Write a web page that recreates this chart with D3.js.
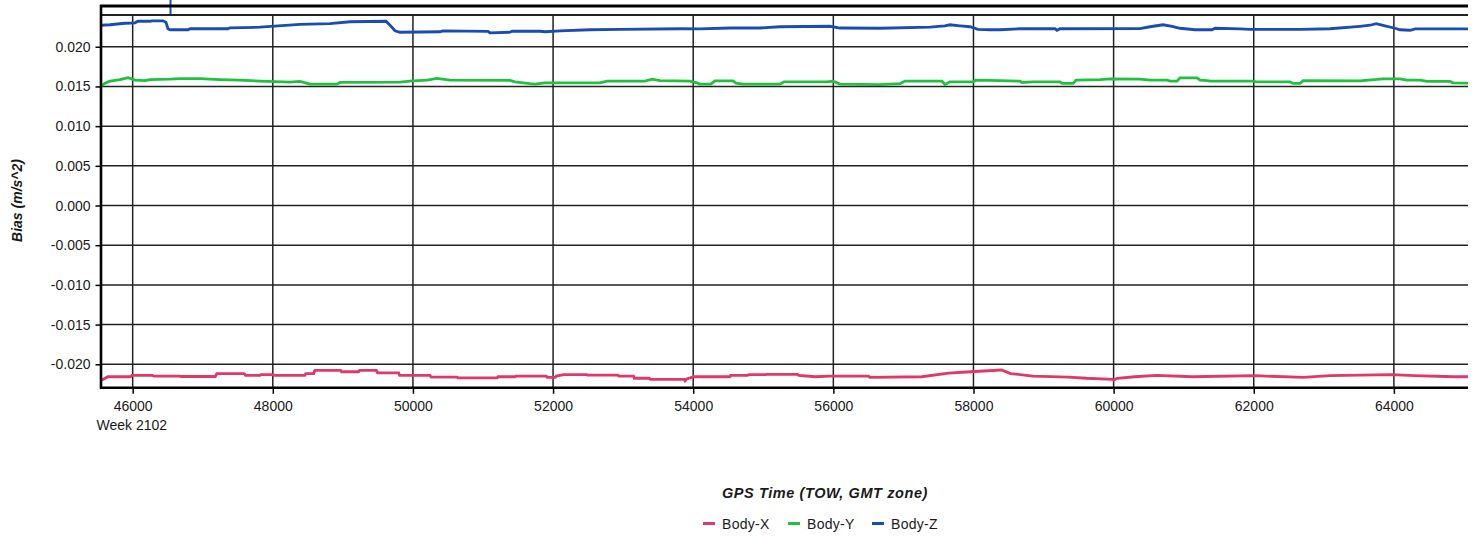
<!DOCTYPE html>
<html><head><meta charset="utf-8">
<script src="https://cdn.jsdelivr.net/npm/d3@7"></script>
<style>
html,body{margin:0;padding:0;background:#fff;}
svg{display:block;font-family:"Liberation Sans",Arial,sans-serif;}
</style></head>
<body>
<svg id="chart" width="1476" height="538"></svg>
<script>
// ---- data (TOW seconds, bias m/s^2) ----
const seriesNames = ["Body-X", "Body-Y", "Body-Z"];
const seriesColors = ["#e0386b", "#1fc23d", "#1a4db3"];
const xTicks = [46000, 48000, 50000, 52000, 54000, 56000, 58000, 60000, 62000, 64000];
const yTicks = [0.020, 0.015, 0.010, 0.005, 0.000, -0.005, -0.010, -0.015, -0.020];
const weekLabel = "Week 2102";
const xTitle = "GPS Time (TOW, GMT zone)";
const yTitle = "Bias (m/s^2)";
const xDomain = [45548, 65058];
const yDomain = [-0.0229, 0.024];
const eventTimes = [46540];

const bodyX = [[45548,-0.02200],[45582,-0.02189],[45646,-0.02157],[45966,-0.02157],[45990,-0.02140],[46284,-0.02140],[46300,-0.02149],[46668,-0.02149],[46690,-0.02154],[47179,-0.02154],[47200,-0.02117],[47594,-0.02117],[47610,-0.02140],[47817,-0.02140],[47830,-0.02131],[48008,-0.02131],[48020,-0.02140],[48456,-0.02140],[48470,-0.02117],[48583,-0.02117],[48600,-0.02076],[48967,-0.02076],[48980,-0.02094],[49222,-0.02094],[49240,-0.02076],[49478,-0.02076],[49495,-0.02108],[49796,-0.02108],[49810,-0.02140],[50243,-0.02140],[50260,-0.02161],[50627,-0.02161],[50640,-0.02171],[51202,-0.02171],[51215,-0.02157],[51456,-0.02157],[51470,-0.02149],[51904,-0.02149],[51915,-0.02166],[52031,-0.02166],[52045,-0.02149],[52155,-0.02131],[52478,-0.02131],[52490,-0.02136],[52926,-0.02136],[52940,-0.02149],[53149,-0.02149],[53160,-0.02176],[53373,-0.02176],[53390,-0.02189],[53870,-0.02189],[53883,-0.02208],[53900,-0.02189],[54011,-0.02157],[54522,-0.02157],[54535,-0.02140],[54777,-0.02140],[54790,-0.02131],[55033,-0.02131],[55045,-0.02128],[55491,-0.02128],[55505,-0.02140],[55745,-0.02157],[55934,-0.02149],[56504,-0.02149],[56520,-0.02166],[57263,-0.02157],[57643,-0.02112],[57959,-0.02094],[58402,-0.02072],[58529,-0.02117],[58846,-0.02149],[59351,-0.02161],[59605,-0.02176],[59985,-0.02189],[60000,-0.02199],[60050,-0.02176],[60302,-0.02157],[60617,-0.02140],[61124,-0.02157],[62010,-0.02144],[62706,-0.02166],[63086,-0.02144],[63972,-0.02131],[64287,-0.02144],[64857,-0.02157],[65057,-0.02157]];

const bodyY = [[45548,0.01503],[45606,0.01542],[45677,0.01567],[45819,0.01586],[45933,0.01611],[46033,0.01579],[46176,0.01573],[46247,0.01586],[46532,0.01592],[46675,0.01598],[46960,0.01598],[47246,0.01586],[47531,0.01579],[47817,0.01567],[48245,0.01554],[48388,0.01563],[48530,0.01529],[48916,0.01529],[48959,0.01550],[49815,0.01554],[49958,0.01567],[50200,0.01579],[50343,0.01601],[50528,0.01579],[51385,0.01576],[51456,0.01558],[51670,0.01535],[51741,0.01529],[51884,0.01545],[52669,0.01545],[52769,0.01567],[53311,0.01567],[53411,0.01592],[53525,0.01573],[53953,0.01567],[54053,0.01545],[54096,0.01529],[54253,0.01529],[54310,0.01571],[54567,0.01571],[54610,0.01542],[54710,0.01529],[55238,0.01529],[55295,0.01558],[55909,0.01558],[55995,0.01567],[56095,0.01529],[56666,0.01522],[56951,0.01535],[57022,0.01567],[57550,0.01567],[57593,0.01525],[57665,0.01558],[57993,0.01558],[58036,0.01579],[58379,0.01573],[58664,0.01567],[58693,0.01550],[58850,0.01558],[59235,0.01558],[59264,0.01538],[59421,0.01538],[59464,0.01579],[59806,0.01586],[59949,0.01596],[60377,0.01592],[60520,0.01579],[60763,0.01579],[60805,0.01567],[60905,0.01567],[60948,0.01608],[61191,0.01608],[61234,0.01579],[61334,0.01573],[61377,0.01567],[61990,0.01567],[62033,0.01558],[62518,0.01558],[62561,0.01538],[62661,0.01538],[62704,0.01573],[63517,0.01571],[63760,0.01588],[63845,0.01596],[64088,0.01596],[64188,0.01579],[64373,0.01579],[64473,0.01563],[64801,0.01563],[64845,0.01545],[65058,0.01542]];

const bodyZ = [[45548,0.02271],[45676,0.02277],[45890,0.02296],[46033,0.02302],[46075,0.02321],[46247,0.02321],[46275,0.02327],[46432,0.02327],[46475,0.02308],[46504,0.02227],[46532,0.02214],[46790,0.02214],[46818,0.02227],[47361,0.02227],[47389,0.02239],[47817,0.02246],[48388,0.02283],[48816,0.02292],[49102,0.02315],[49616,0.02321],[49673,0.02271],[49744,0.02201],[49815,0.02183],[50386,0.02189],[50429,0.02201],[51071,0.02195],[51100,0.02176],[51385,0.02183],[51414,0.02195],[51813,0.02195],[51885,0.02189],[52098,0.02201],[52527,0.02214],[52955,0.02220],[53811,0.02227],[54096,0.02224],[54525,0.02236],[54953,0.02236],[55238,0.02252],[55952,0.02258],[56095,0.02236],[56666,0.02233],[57379,0.02246],[57593,0.02264],[57665,0.02277],[57807,0.02264],[57950,0.02252],[58065,0.02220],[58236,0.02214],[58379,0.02214],[58664,0.02227],[59163,0.02227],[59192,0.02208],[59235,0.02227],[60377,0.02229],[60520,0.02252],[60705,0.02277],[60834,0.02258],[60948,0.02233],[61162,0.02214],[61405,0.02214],[61448,0.02233],[61804,0.02224],[61947,0.02220],[62661,0.02220],[63089,0.02227],[63517,0.02258],[63660,0.02271],[63746,0.02292],[63874,0.02264],[64017,0.02233],[64088,0.02214],[64231,0.02208],[64302,0.02224],[65058,0.02224]];

const seriesData = [bodyX, bodyY, bodyZ];

(function () {
// ---- layout ----
const svg = d3.select("#chart");
const L = 101, R = 1468, T = 15, B = 387.3;
const x = d3.scaleLinear().domain(xDomain).range([L, R]);
const y = d3.scaleLinear().domain(yDomain).range([B, T]);
const textColor = "#1a1a1a";
const fontFam = "'Liberation Sans', Arial, sans-serif";

// event marker band above plot
svg.selectAll("line.event").data(eventTimes).enter().append("line")
  .attr("x1", d => x(d)).attr("x2", d => x(d)).attr("y1", 0).attr("y2", T)
  .attr("stroke", seriesColors[2]).attr("stroke-width", 2);

// grid
const grid = svg.append("g");
grid.selectAll("line.h").data(yTicks).enter().append("line")
  .attr("x1", L).attr("x2", R).attr("y1", d => y(d)).attr("y2", d => y(d))
  .attr("stroke", "#222").attr("stroke-width", 1.5);
grid.selectAll("line.v").data(xTicks).enter().append("line")
  .attr("x1", d => x(d)).attr("x2", d => x(d)).attr("y1", T).attr("y2", B)
  .attr("stroke", "#222").attr("stroke-width", 1.5);

// series
const line = d3.line().x(d => x(d[0])).y(d => y(d[1]));
svg.append("g").selectAll("path").data(seriesData).enter().append("path")
  .attr("d", line).attr("fill", "none")
  .attr("stroke", (d, i) => seriesColors[i]).attr("stroke-width", 2.8)
  .attr("stroke-linejoin", "miter");

// frame lines
svg.append("line").attr("x1", L - 1).attr("x2", R).attr("y1", 6).attr("y2", 6)
  .attr("stroke", "#000").attr("stroke-width", 3);
svg.append("line").attr("x1", L - 1).attr("x2", R).attr("y1", T).attr("y2", T)
  .attr("stroke", "#222").attr("stroke-width", 2);
svg.append("line").attr("x1", L).attr("x2", L).attr("y1", 5).attr("y2", B + 1.5)
  .attr("stroke", "#000").attr("stroke-width", 2.6);
svg.append("line").attr("x1", L - 1).attr("x2", R).attr("y1", B + 0.5).attr("y2", B + 0.5)
  .attr("stroke", "#000").attr("stroke-width", 2.6);

// y axis
const yAxis = d3.axisLeft(y).tickValues(yTicks).tickSize(5).tickPadding(5)
  .tickFormat(d => d3.format(".3f")(d).replace("\u2212", "-"));
const gy = svg.append("g").attr("transform", `translate(${L - 0.5},0)`).call(yAxis);
gy.select(".domain").remove();
gy.selectAll(".tick line").attr("stroke", "#000").attr("stroke-width", 1.5);
gy.selectAll(".tick text").attr("fill", textColor).style("font-size", "14px")
  .style("font-family", fontFam);

// x axis
const xAxis = d3.axisBottom(x).tickValues(xTicks).tickSize(5).tickPadding(7).tickFormat(d3.format("d"));
const gx = svg.append("g").attr("transform", `translate(0,${B + 1.5})`).call(xAxis);
gx.select(".domain").remove();
gx.selectAll(".tick line").attr("stroke", "#000").attr("stroke-width", 1.5);
gx.selectAll(".tick text").attr("fill", textColor).style("font-size", "14px")
  .style("font-family", fontFam);

svg.append("text").attr("x", 96.5).attr("y", 430).attr("fill", textColor)
  .style("font-size", "14px").text(weekLabel);

// titles
svg.append("text").attr("x", 825).attr("y", 497.5).attr("text-anchor", "middle")
  .attr("fill", textColor).style("font-size", "14.5px").style("font-weight", "bold")
  .style("font-style", "italic").style("letter-spacing", "0.6px").text(xTitle);
svg.append("text").attr("transform", "translate(21.5,200.5) rotate(-90)").attr("text-anchor", "middle")
  .attr("fill", textColor).style("font-size", "14px").style("font-weight", "bold")
  .style("font-style", "italic").text(yTitle);

// legend
const legendX = [703, 788, 872];
const lg = svg.append("g").selectAll("g").data(seriesNames).enter().append("g")
  .attr("transform", (d, i) => `translate(${legendX[i]},523.5)`);
lg.append("line").attr("x1", 0).attr("x2", 12).attr("y1", 0).attr("y2", 0)
  .attr("stroke", (d, i) => seriesColors[i]).attr("stroke-width", 3);
lg.append("text").attr("x", 19).attr("y", 5).attr("fill", textColor)
  .style("font-size", "14px").style("letter-spacing", "0.3px").text(d => d);
})();
</script>
</body></html>
